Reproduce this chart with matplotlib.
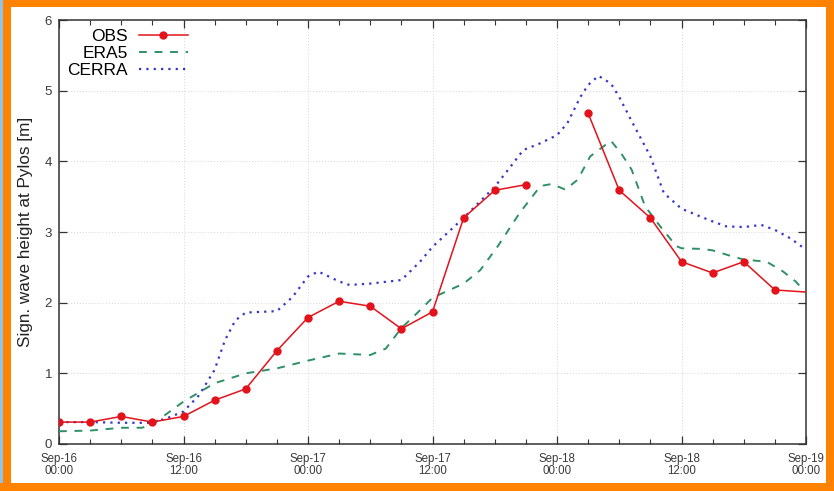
import numpy as np
import pandas as pd
import matplotlib
matplotlib.use('Agg')
import matplotlib.pyplot as plt
import matplotlib.dates as mdates
from matplotlib.patches import Rectangle


start = pd.Timestamp('2023-09-16 00:00')

# buoy observations, every 3 hours (NaN = missing record)
obs_hours = [0, 3, 6, 9, 12, 15, 18, 21, 24, 27, 30, 33, 36, 39, 42, 45,
             48, 51, 54, 57, 60, 63, 66, 69, 72]
obs_hs = [0.31, 0.31, 0.39, 0.31, 0.39, 0.62, 0.78, 1.32, 1.79, 2.02, 1.95, 1.63,
          1.87, 3.20, 3.59, 3.67, np.nan, 4.68, 3.59, 3.20, 2.58, 2.42, 2.58, 2.18, 2.15]

# ERA5 reanalysis
era5_hours = [0, 3, 6, 8, 9, 12, 15, 18, 21, 24, 27, 30, 31.5, 33, 34.5, 36, 39,
              40.6, 42.3, 44.4, 46.4, 47.5, 48.8, 50, 51.2, 53.2, 54.2, 55.2, 56.5,
              58, 59.5, 60, 62, 63, 65, 66, 68.2, 69.8, 71, 71.5]
era5_hs = [0.18, 0.19, 0.23, 0.23, 0.28, 0.60, 0.86, 1.00, 1.07, 1.18, 1.28, 1.26,
           1.35, 1.64, 1.85, 2.07, 2.27, 2.46, 2.80, 3.27, 3.65, 3.68, 3.60, 3.74,
           4.07, 4.29, 4.11, 3.88, 3.36, 3.07, 2.80, 2.77, 2.76, 2.74, 2.65, 2.61,
           2.58, 2.44, 2.30, 2.22]

# CERRA reanalysis
cerra_hours = [0, 3, 6, 9, 10.5, 12, 13.5, 15, 16, 17, 18, 21, 22.5, 24, 25, 27,
               28, 30, 33, 34.8, 36, 39, 42, 43.5, 44.75, 46.3, 48, 49, 50.25, 51,
               52, 53.2, 54, 55.3, 57, 58.3, 60, 61.8, 63, 64.3, 66, 67.7, 69,
               70.5, 72]
cerra_hs = [0.31, 0.31, 0.30, 0.30, 0.37, 0.46, 0.69, 1.05, 1.47, 1.75, 1.86, 1.88,
            2.08, 2.37, 2.44, 2.30, 2.25, 2.27, 2.32, 2.58, 2.79, 3.20, 3.64, 3.92,
            4.16, 4.25, 4.37, 4.54, 4.91, 5.08, 5.21, 5.10, 4.91, 4.54, 4.07, 3.55,
            3.33, 3.22, 3.15, 3.08, 3.07, 3.10, 3.03, 2.91, 2.75]


def to_times(hours):
   return start + pd.to_timedelta(hours, unit='h')


plt.rcParams['font.family'] = ['Liberation Sans', 'DejaVu Sans']

W, H = 834, 491
fig = plt.figure(figsize=(W / 100, H / 100), dpi=100)
fig.patch.set_facecolor('#ff8200')

# white card inside the orange frame, with a thin blue strip on the left
fig.patches.append(Rectangle((11 / W, 8 / H), (826 - 11) / W, (484 - 8) / H,
                             transform=fig.transFigure, facecolor='white',
                             edgecolor='none', zorder=-10))
fig.patches.append(Rectangle((0, 8 / H), 3 / W, 1 - 8 / H,
                             transform=fig.transFigure, facecolor='#8fc3ea',
                             edgecolor='none', zorder=-10))

ax = fig.add_axes([59 / W, 1 - 444 / H, (806 - 59) / W, (444 - 20) / H])
ax.set_facecolor('none')

ax.plot(to_times(obs_hours), obs_hs, color='#e3121b', lw=1.1, marker='o',
        ms=6, markeredgewidth=0, markevery=list(range(len(obs_hs) - 1)),
        label='OBS', zorder=4)
ax.plot(to_times(era5_hours), era5_hs, color='#2f8f66', lw=1.4,
        dashes=(4, 4), label='ERA5', zorder=3)
ax.plot(to_times(cerra_hours), cerra_hs, color='#3535c8', lw=1.6,
        dashes=(1, 2.3), label='CERRA', zorder=3)

ax.set_xlim(start, start + pd.Timedelta(hours=72))
ax.set_ylim(0, 6)

ax.xaxis.set_major_locator(mdates.HourLocator(byhour=[0, 12]))
ax.xaxis.set_minor_locator(mdates.HourLocator(byhour=[3, 6, 9, 15, 18, 21]))
ax.xaxis.set_major_formatter(mdates.DateFormatter('%b-%d\n%H:%M'))
ax.set_yticks(range(0, 7))

ax.tick_params(which='both', direction='in', top=True, right=True,
               color='#333333')
ax.tick_params(which='major', length=6, width=0.9)
ax.tick_params(which='minor', length=3.5, width=0.8)
ax.tick_params(axis='x', labelsize=8.3, pad=6.5, labelcolor='#3a3a3a')
ax.tick_params(axis='y', labelsize=9.5, pad=5, labelcolor='#3a3a3a')
for lab in ax.get_xticklabels():
   lab.set_linespacing(1.05)

for s in ax.spines.values():
   s.set_color('#333333')
   s.set_linewidth(1.1)

ax.grid(True, which='major', color='#d6d6d6', lw=0.7, ls=(0, (1, 2)))

ax.set_ylabel('Sign. wave height at Pylos [m]', fontsize=12.3, color='#222222')
ax.yaxis.set_label_coords(-26 / (806 - 59), 0.5)

ax.legend(loc='upper left', bbox_to_anchor=(-0.003, 1.004), frameon=False,
          markerfirst=False, fontsize=12.5, handlelength=2.8, handletextpad=0.65,
          labelspacing=0.12, borderaxespad=0.2)

fig.savefig('out.png', dpi=100, facecolor=fig.get_facecolor())
